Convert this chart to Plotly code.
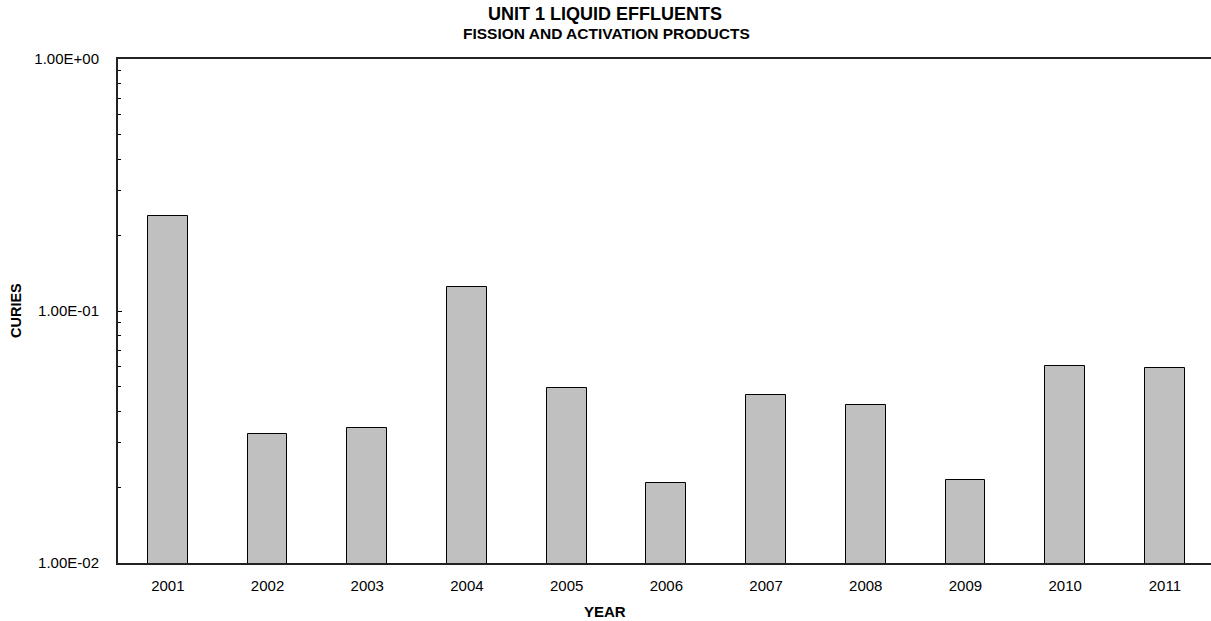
import plotly.graph_objects as go

years = ["2001", "2002", "2003", "2004", "2005", "2006", "2007", "2008", "2009", "2010", "2011"]
curies = [0.238, 0.0325, 0.0342, 0.1245, 0.0494, 0.0207, 0.0464, 0.0423, 0.0213, 0.0605, 0.0596]
ytick_vals = [0.01, 0.1, 1.0]
ytick_text = ["1.00E-02", "1.00E-01", "1.00E+00"]
minor_vals = [m * d for d in (0.01, 0.1) for m in range(2, 10)]

W, H = 1211, 621
L, R, T, B = 118, 0, 59, 58
pw, ph = W - L - R, H - T - B


def px(xp):
    return (xp - L) / pw


def py(yp):
    return (H - B - yp) / ph


fig = go.Figure()
fig.add_trace(go.Bar(
    x=list(range(len(years))), y=curies, width=0.4,
    marker=dict(color="#c0c0c0", line=dict(color="#000000", width=1)),
))

fig.update_layout(
    width=W, height=H,
    margin=dict(l=L, r=R, t=T, b=B),
    paper_bgcolor="white", plot_bgcolor="white",
    font=dict(family="Liberation Sans, Arial, sans-serif", color="#000000"),
    showlegend=False,
    bargap=0,
)

anns = [
    dict(text="<b>UNIT 1 LIQUID EFFLUENTS</b>", x=px(605), y=py(13.5), font=dict(size=18)),
    dict(text="<b>FISSION AND ACTIVATION PRODUCTS</b>", x=px(606), y=py(34), font=dict(size=15.5)),
    dict(text="<b>CURIES</b>", x=px(16), y=py(311), textangle=-90, font=dict(size=14.5)),
    dict(text="<b>YEAR</b>", x=px(605), y=py(611), font=dict(size=15)),
]
for a in anns:
    fig.add_annotation(xref="paper", yref="paper", showarrow=False, xanchor="center", yanchor="middle", **a)

fig.update_xaxes(
    tickmode="array", tickvals=list(range(len(years))), ticktext=years,
    range=[-0.5, -0.5 + pw / 99.7],
    showline=True, linecolor="#222222", linewidth=2, mirror=True,
    ticks="", showgrid=False, zeroline=False,
    tickfont=dict(size=15), ticklabelstandoff=8,
)
fig.update_yaxes(
    type="log", range=[-2, 0],
    tickmode="array", tickvals=ytick_vals, ticktext=ytick_text,
    showline=True, linecolor="#222222", linewidth=2, mirror=False,
    ticks="inside", ticklen=4, tickcolor="#000000", tickwidth=1,
    minor=dict(tickmode="array", tickvals=minor_vals, ticks="inside", ticklen=3, tickcolor="#000000", showgrid=False),
    showgrid=False, zeroline=False,
    tickfont=dict(size=15), ticklabelstandoff=14,
)

fig.write_html("out.html", config={"displayModeBar": False},
               post_script="document.body.style.margin='0';document.body.style.overflow='hidden';")
